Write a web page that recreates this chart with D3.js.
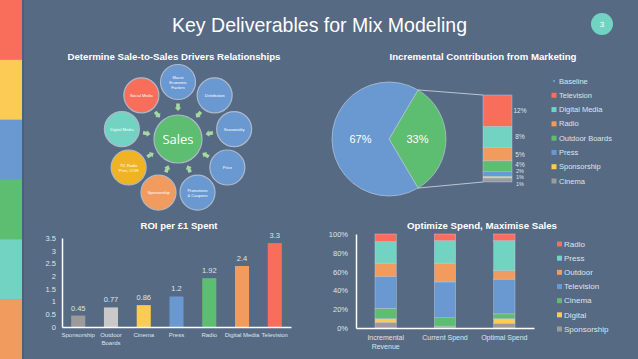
<!DOCTYPE html>
<html>
<head>
<meta charset="utf-8">
<script src="https://cdn.jsdelivr.net/npm/d3@7"></script>
<style>
body { margin: 0; background: #566a84; }
svg { display: block; font-family: "Liberation Sans", Arial, sans-serif; }
</style>
</head>
<body>
<svg id="chart" width="638" height="359"></svg>
<script>
// ---- data ----
const stripeColors = ["#f96e5b", "#fbcb55", "#6a98d1", "#5dbd70", "#73d3c3", "#f29b5e"];

const driverNames = ["Macro\nEconomic\nFactors", "Distribution", "Seasonality", "Price",
  "Promotions\n& Coupons", "Sponsorship", "TV, Radio\nPrint, OOH", "Digital Media", "Social Media"];
const driverColors = ["#6a98d1", "#6a98d1", "#6a98d1", "#6a98d1", "#6a98d1",
  "#f29b5e", "#f0b323", "#73d3c3", "#f96e5b"];

const pieNames = ["Marketing", "Baseline"];
const pieValues = [33, 67];

const mktChannels = ["Television", "Digital Media", "Radio", "Outdoor Boards", "Press", "Sponsorship", "Cinema"];
const mktValues = [12, 8, 5, 4, 2, 0.5, 1.5];
const mktLabels = ["12%", "8%", "5%", "4%", "2%", "1%", "1%"];

const roiChannels = ["Sponsorship", "Outdoor\nBoards", "Cinema", "Press", "Radio", "Digital Media", "Television"];
const roiValues = [0.45, 0.77, 0.86, 1.2, 1.92, 2.4, 3.3];
const roiTicks = [0, 0.5, 1, 1.5, 2, 2.5, 3, 3.5];

const scenarios = ["Incremental\nRevenue", "Current Spend", "Optimal Spend"];
const spendChannels = ["Sponsorship", "Digital", "Cinema", "Television", "Outdoor", "Press", "Radio"];
const sponsorshipShare = [6, 2, 5];
const digitalShare = [4, 0, 5];
const cinemaShare = [11, 9, 5];
const televisionShare = [34, 38, 37];
const outdoorShare = [14, 20, 9];
const pressShare = [23, 24, 32];
const radioShare = [8, 7, 7];

const colors = {
  red: "#f96e5b", yellow: "#fbcb55", blue: "#6a98d1", green: "#5dbd70",
  teal: "#73d3c3", orange: "#f29b5e", gray: "#9b9b9b", lightgray: "#c9c9c9"
};
const textGray = "#dfe4ea";

const svg = d3.select("#chart");

// multi-line text helper (centred vertically)
function lines(sel, str, lh) {
  const parts = str.split("\n");
  parts.forEach((p, i) => {
    sel.append("tspan")
      .attr("x", sel.attr("x"))
      .attr("dy", i === 0 ? (-(parts.length - 1) / 2 * lh) + "em" : lh + "em")
      .text(p);
  });
}

// ---- background + left stripe ----
svg.append("rect").attr("width", 638).attr("height", 359).attr("fill", "#566a84");
const stripe = d3.scaleBand().domain(d3.range(stripeColors.length)).range([0, 359]);
svg.selectAll("rect.stripe")
  .data(stripeColors)
  .join("rect")
  .attr("class", "stripe")
  .attr("x", 0)
  .attr("y", (d, i) => stripe(i))
  .attr("width", 22)
  .attr("height", stripe.bandwidth() + 0.5)
  .attr("fill", d => d);
svg.append("rect").attr("x", 22).attr("y", 0).attr("width", 2).attr("height", 359).attr("fill", "#4d6079");

// ---- header ----
svg.append("text")
  .attr("x", 319.5).attr("y", 31.5)
  .attr("text-anchor", "middle")
  .attr("fill", "#fff")
  .attr("font-size", 21)
  .attr("textLength", 295)
  .attr("lengthAdjust", "spacingAndGlyphs")
  .text("Key Deliverables for Mix Modeling");
svg.append("circle").attr("cx", 602).attr("cy", 24).attr("r", 11).attr("fill", colors.teal);
svg.append("text").attr("x", 602).attr("y", 27).attr("text-anchor", "middle")
  .attr("fill", "#fff").attr("font-size", 8).text("3");

function panelTitle(x, y, t, len) {
  svg.append("text")
    .attr("x", x).attr("y", y)
    .attr("text-anchor", "middle")
    .attr("fill", "#fff")
    .attr("font-weight", "bold")
    .attr("font-size", 9.5)
    .attr("textLength", len)
    .attr("lengthAdjust", "spacingAndGlyphs")
    .text(t);
}

// ---- panel 1: drivers diagram ----
panelTitle(174, 60, "Determine Sale-to-Sales Drivers Relationships", 213);

const cx = 178, cy = 139, ring = 57;
const ang = d3.scaleLinear().domain([0, driverNames.length]).range([-Math.PI / 2, 1.5 * Math.PI]);
const g1 = svg.append("g");

// arrows pointing at the centre
const arrowShape = "M-3.5,-1.8 L0.5,-1.8 L0.5,-3.3 L4,0 L0.5,3.3 L0.5,1.8 L-3.5,1.8 Z";
g1.selectAll("path.arrow")
  .data(driverNames)
  .join("path")
  .attr("class", "arrow")
  .attr("d", arrowShape)
  .attr("fill", "#a6d9a0")
  .attr("transform", (d, i) => {
    const a = ang(i);
    const r = 32;
    return `translate(${cx + r * Math.cos(a)},${cy + r * Math.sin(a)}) rotate(${a * 180 / Math.PI + 180})`;
  });

g1.selectAll("circle.driver")
  .data(driverNames)
  .join("circle")
  .attr("class", "driver")
  .attr("cx", (d, i) => cx + ring * Math.cos(ang(i)))
  .attr("cy", (d, i) => cy + ring * Math.sin(ang(i)))
  .attr("r", 17.5)
  .attr("fill", (d, i) => driverColors[i])
  .attr("stroke", "#aebaca")
  .attr("stroke-width", 1.2);

g1.selectAll("text.driver")
  .data(driverNames)
  .join("text")
  .attr("class", "driver")
  .attr("x", (d, i) => cx + ring * Math.cos(ang(i)))
  .attr("y", (d, i) => cy + ring * Math.sin(ang(i)) + 1.5)
  .attr("text-anchor", "middle")
  .attr("fill", "#fff")
  .attr("font-size", 4)
  .each(function (d) { lines(d3.select(this), d, 1.25); });

g1.append("circle").attr("cx", cx).attr("cy", cy).attr("r", 24)
  .attr("fill", colors.green).attr("stroke", "#aebaca").attr("stroke-width", 1.2);
g1.append("text").attr("x", cx).attr("y", cy + 4.5).attr("text-anchor", "middle")
  .attr("fill", "#fff").attr("font-size", 13).attr("font-family", "Open Sans, sans-serif")
  .text("Sales");

// ---- panel 2: pie of pie ----
panelTitle(483, 60, "Incremental Contribution from Marketing", 187);

const pcx = 389, pcy = 139, pr = 57;
const start = Math.PI * (0.5 - pieValues[0] / 100);
const pie = d3.pie().sort(null).startAngle(start).endAngle(start + 2 * Math.PI);
const arcs = pie(pieValues);
const arc = d3.arc().innerRadius(0).outerRadius(pr);
const labelArc = d3.arc().innerRadius(pr * 0.5).outerRadius(pr * 0.5);
const g2 = svg.append("g").attr("transform", `translate(${pcx},${pcy})`);
g2.selectAll("path")
  .data(arcs)
  .join("path")
  .attr("d", arc)
  .attr("fill", (d, i) => i === 0 ? colors.green : colors.blue)
  .attr("stroke", "#c7d2dc")
  .attr("stroke-width", 0.6);
g2.selectAll("text")
  .data(arcs)
  .join("text")
  .attr("transform", d => `translate(${labelArc.centroid(d)})`)
  .attr("dy", "0.35em")
  .attr("text-anchor", "middle")
  .attr("fill", "#fff")
  .attr("font-size", 11)
  .text(d => d.value + "%");

// stacked bar of marketing
const bx = 483, bw = 29;
const by = d3.scaleLinear().domain([0, d3.sum(mktValues)]).range([95, 182]);
const cum = d3.cumsum(mktValues);
const mktColors = [colors.red, colors.teal, colors.orange, colors.green, colors.blue, colors.yellow, colors.gray];

// connector lines
const mArc = arcs[0];
const pTop = [pcx + pr * Math.sin(mArc.startAngle), pcy - pr * Math.cos(mArc.startAngle)];
const pBot = [pcx + pr * Math.sin(mArc.endAngle), pcy - pr * Math.cos(mArc.endAngle)];
svg.append("line").attr("x1", pTop[0]).attr("y1", pTop[1]).attr("x2", bx).attr("y2", by(0))
  .attr("stroke", "#d5dce4").attr("stroke-width", 0.8);
svg.append("line").attr("x1", pBot[0]).attr("y1", pBot[1]).attr("x2", bx).attr("y2", by(d3.sum(mktValues)))
  .attr("stroke", "#d5dce4").attr("stroke-width", 0.8);

svg.selectAll("rect.mkt")
  .data(mktValues)
  .join("rect")
  .attr("class", "mkt")
  .attr("x", bx)
  .attr("y", (d, i) => by(cum[i] - d))
  .attr("width", bw)
  .attr("height", d => by(d) - by(0))
  .attr("fill", (d, i) => mktColors[i])
  .attr("stroke", "#c7d2dc")
  .attr("stroke-width", 0.4);

// small slices: labels pushed apart so they stay readable
const labelY = [0, 0, 0, -1, -3.5, 0, 4];
svg.selectAll("text.mkt")
  .data(mktLabels)
  .join("text")
  .attr("class", "mkt")
  .attr("x", 520)
  .attr("y", (d, i) => by(cum[i] - mktValues[i] / 2) + labelY[i])
  .attr("dy", "0.35em")
  .attr("text-anchor", "middle")
  .attr("fill", textGray)
  .attr("font-size", (d, i) => i > 3 ? 5.5 : 6.5)
  .text(d => d);

// legend
const leg2 = ["Baseline", ...mktChannels];
const leg2Colors = [colors.blue, ...mktColors];
const leg2y = d3.scalePoint().domain(leg2).range([81, 181]);
svg.selectAll("rect.leg2")
  .data(leg2)
  .join("rect")
  .attr("class", "leg2")
  .attr("x", (d, i) => i === 0 ? 553 : 551.5)
  .attr("y", (d, i) => leg2y(d) - (i === 0 ? 1 : 2.5))
  .attr("width", (d, i) => i === 0 ? 2 : 5)
  .attr("height", (d, i) => i === 0 ? 2 : 5)
  .attr("fill", (d, i) => leg2Colors[i]);
svg.selectAll("text.leg2")
  .data(leg2)
  .join("text")
  .attr("class", "leg2")
  .attr("x", 559)
  .attr("y", d => leg2y(d))
  .attr("dy", "0.35em")
  .attr("fill", textGray)
  .attr("font-size", 7.5)
  .text(d => d);

// ---- panel 3: ROI bars ----
panelTitle(179, 229, "ROI per £1 Spent", 77);

const roiX = d3.scaleBand().domain(roiChannels).range([62, 291]).paddingInner(0.57).paddingOuter(0.28);
const roiY = d3.scaleLinear().domain([0, 3.5]).range([327, 238]);
const roiColors = [colors.gray, colors.lightgray, colors.yellow, colors.blue, colors.green, colors.orange, colors.red];

svg.selectAll("rect.roi")
  .data(roiValues)
  .join("rect")
  .attr("class", "roi")
  .attr("x", (d, i) => roiX(roiChannels[i]))
  .attr("y", d => roiY(d))
  .attr("width", roiX.bandwidth())
  .attr("height", d => roiY(0) - roiY(d))
  .attr("fill", (d, i) => roiColors[i]);

svg.selectAll("text.roi")
  .data(roiValues)
  .join("text")
  .attr("class", "roi")
  .attr("x", (d, i) => roiX(roiChannels[i]) + roiX.bandwidth() / 2)
  .attr("y", d => roiY(d) - 5)
  .attr("text-anchor", "middle")
  .attr("fill", textGray)
  .attr("font-size", 7.5)
  .text(d => d);

svg.append("g")
  .attr("transform", "translate(62,0)")
  .call(d3.axisLeft(roiY).tickValues(roiTicks).tickFormat(d => d).tickSize(0).tickPadding(6));
svg.append("g")
  .attr("transform", "translate(0,327)")
  .call(d3.axisBottom(roiX).tickSize(0).tickPadding(6).tickFormat(""));

svg.selectAll("text.roicat")
  .data(roiChannels)
  .join("text")
  .attr("class", "roicat")
  .attr("x", d => roiX(d) + roiX.bandwidth() / 2)
  .attr("y", 337)
  .attr("text-anchor", "middle")
  .attr("fill", textGray)
  .attr("font-size", 6)
  .each(function (d) {
    const t = d3.select(this);
    d.split("\n").forEach((p, i) => t.append("tspan").attr("x", t.attr("x")).attr("dy", i ? "1.25em" : 0).text(p));
  });

// ---- panel 4: stacked spend shares ----
panelTitle(482, 229, "Optimize Spend, Maximise Sales", 150);

const shareTable = scenarios.map((s, i) => ({
  scenario: s,
  Sponsorship: sponsorshipShare[i] / 100,
  Digital: digitalShare[i] / 100,
  Cinema: cinemaShare[i] / 100,
  Television: televisionShare[i] / 100,
  Outdoor: outdoorShare[i] / 100,
  Press: pressShare[i] / 100,
  Radio: radioShare[i] / 100
}));
const spendColors = d3.scaleOrdinal().domain(spendChannels)
  .range([colors.gray, colors.yellow, colors.green, colors.blue, colors.orange, colors.teal, colors.red]);
const stacked = d3.stack().keys(spendChannels)(shareTable);

const sX = d3.scaleBand().domain(scenarios).range([356, 534]).paddingInner(0.64).paddingOuter(0.32);
const sY = d3.scaleLinear().domain([0, 1]).range([328, 234]);

svg.append("g")
  .selectAll("g")
  .data(stacked)
  .join("g")
  .attr("fill", d => spendColors(d.key))
  .selectAll("rect")
  .data(d => d)
  .join("rect")
  .attr("x", d => sX(d.data.scenario))
  .attr("y", d => sY(d[1]))
  .attr("width", sX.bandwidth())
  .attr("height", d => sY(d[0]) - sY(d[1]))
  .attr("stroke", "#c7d2dc")
  .attr("stroke-width", 0.4);

svg.append("g")
  .attr("transform", "translate(356,0)")
  .call(d3.axisLeft(sY).ticks(5).tickFormat(d3.format(".0%")).tickSize(0).tickPadding(8));
svg.append("g")
  .attr("transform", "translate(0,328)")
  .call(d3.axisBottom(sX).tickSize(0).tickFormat(""));

svg.selectAll("text.scat")
  .data(scenarios)
  .join("text")
  .attr("class", "scat")
  .attr("x", d => sX(d) + sX.bandwidth() / 2)
  .attr("y", 340)
  .attr("text-anchor", "middle")
  .attr("fill", textGray)
  .attr("font-size", 7)
  .each(function (d) {
    const t = d3.select(this);
    d.split("\n").forEach((p, i) => t.append("tspan").attr("x", t.attr("x")).attr("dy", i ? "1.3em" : 0).text(p));
  });

const leg4 = spendChannels.slice().reverse();
const leg4y = d3.scalePoint().domain(leg4).range([244, 329]);
svg.selectAll("rect.leg4")
  .data(leg4)
  .join("rect")
  .attr("class", "leg4")
  .attr("x", 557)
  .attr("y", d => leg4y(d) - 2.5)
  .attr("width", 5)
  .attr("height", 5)
  .attr("fill", d => spendColors(d));
svg.selectAll("text.leg4")
  .data(leg4)
  .join("text")
  .attr("class", "leg4")
  .attr("x", 564)
  .attr("y", d => leg4y(d))
  .attr("dy", "0.35em")
  .attr("fill", textGray)
  .attr("font-size", 8)
  .text(d => d);

// axis styling
svg.selectAll(".domain").attr("stroke", "#fff").attr("stroke-width", 1.5);
svg.selectAll(".tick text").attr("fill", textGray).attr("font-size", 7.5);
</script>
</body>
</html>
